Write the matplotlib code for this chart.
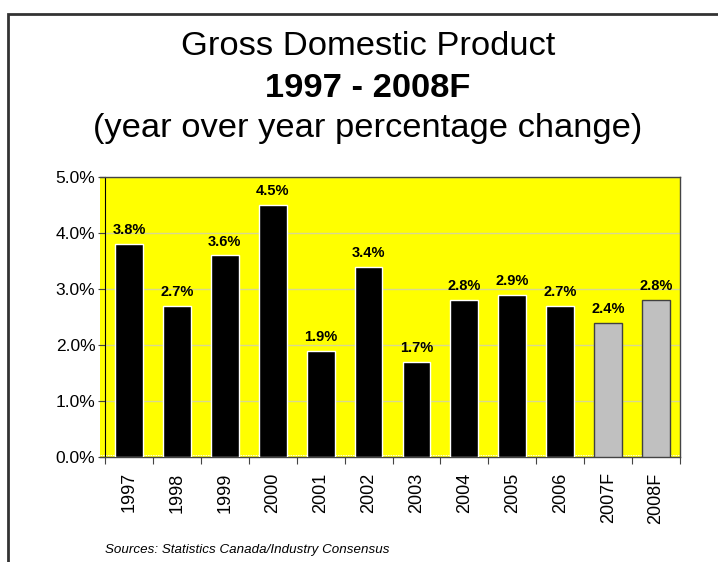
import matplotlib
matplotlib.use("Agg")
import matplotlib.pyplot as plt
from matplotlib.patches import Rectangle
import numpy as np

plt.rcParams['font.family'] = ['Liberation Sans', 'DejaVu Sans']

years = ["1997", "1998", "1999", "2000", "2001", "2002", "2003", "2004", "2005", "2006", "2007F", "2008F"]
values = [3.8, 2.7, 3.6, 4.5, 1.9, 3.4, 1.7, 2.8, 2.9, 2.7, 2.4, 2.8]
forecast = [False]*10 + [True, True]
yticks = [0.0, 1.0, 2.0, 3.0, 4.0, 5.0]

W, H = 718, 562
fig = plt.figure(figsize=(W/100, H/100), dpi=100)

# frame
fig.patches.append(Rectangle((8/W, -0.1), 1.2, 1.1 - 14/H, transform=fig.transFigure,
                             fill=False, edgecolor='#333333', linewidth=2))

n = len(years)
cat_px = (680 - 105) / n
extra = 5 / cat_px
ax = fig.add_axes([100/W, 1 - 457/H, (680-100)/W, (457-177)/H])
ax.set_facecolor('#FFFF00')
x = np.arange(n)
colors = ['#C0C0C0' if f else '#000000' for f in forecast]
edges = ['#404040' if f else '#FFFFFF' for f in forecast]
ax.bar(x, values, width=0.58, color=colors, edgecolor=edges, linewidth=1.0, zorder=3)
for xi, v in zip(x, values):
    ax.text(xi, v + 0.12, f"{v:.1f}%", ha='center', va='bottom', fontsize=10.5,
            fontweight='bold', zorder=4)

ax.set_xlim(-0.5 - extra, n - 0.5)
ax.set_ylim(0, 5.0)
ax.spines['left'].set_position(('data', -0.5))
ax.set_yticks(yticks)
ax.set_yticklabels([f"{t:.1f}%" for t in yticks], fontsize=12.5)
ax.yaxis.grid(True, color='#D8D890', linewidth=1.0, zorder=0)
ax.set_axisbelow(True)
ax.axhline(0.04, color='white', linestyle=(0, (2, 1)), linewidth=0.6, zorder=2)

ax.set_xticks(np.arange(-0.5, n, 1.0))
ax.set_xticklabels([])
ax.set_xticks(x, minor=True)
ax.set_xticklabels(years, minor=True, rotation=90, fontsize=13)
ax.tick_params(axis='x', which='minor', length=0, pad=11)
ax.tick_params(axis='x', which='major', length=5, color='#444444')
ax.tick_params(axis='y', length=5, color='#444444', pad=2)

for s in ['top', 'right', 'bottom']:
    ax.spines[s].set_color('#444444')
    ax.spines[s].set_linewidth(1.0)
ax.spines['left'].set_color('#000000')
ax.spines['left'].set_bounds(0, 5.0)

cx = 368 / W
fig.text(cx, 1 - 55/H, "Gross Domestic Product", ha='center', va='baseline', fontsize=24.8)
fig.text(cx, 1 - 97/H, "1997 - 2008F", ha='center', va='baseline', fontsize=24.8, fontweight='bold')
fig.text(cx, 1 - 137/H, "(year over year percentage change)", ha='center', va='baseline', fontsize=24.8)
fig.text(105/W, 1 - 553/H, "Sources: Statistics Canada/Industry Consensus", ha='left', va='baseline',
         fontsize=9.6, style='italic')

fig.savefig("out.png", dpi=100)
